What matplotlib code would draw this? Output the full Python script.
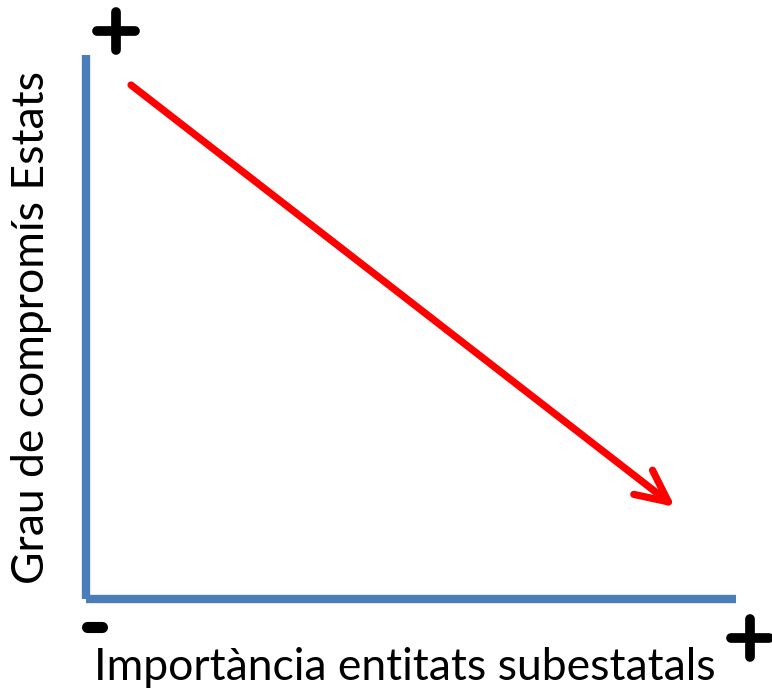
import matplotlib
matplotlib.use('Agg')
import matplotlib.pyplot as plt

# eixos del diagrama (en pixels de la imatge)
eix_x = [86, 736]
eix_y = [55, 599]
origen = (86, 599)

# fletxa: de dalt a l'esquerra fins a baix a la dreta
fletxa_inici = (131, 85)
fletxa_final = (675, 507)

etiqueta_x = 'Importància entitats subestatals'
etiqueta_y = 'Grau de compromís Estats'

blau = '#4a7ebb'
vermell = '#ff0000'

fig = plt.figure(figsize=(7.72, 6.95), dpi=100)
ax = fig.add_axes([0, 0, 1, 1])
ax.set_xlim(0, 772)
ax.set_ylim(695, 0)
ax.axis('off')

# eixos blaus
ax.plot([origen[0], origen[0]], [eix_y[0], origen[1]], color=blau, lw=6, solid_capstyle='butt')
ax.plot([eix_x[0], eix_x[1]], [origen[1], origen[1]], color=blau, lw=6, solid_capstyle='butt')

# fletxa vermella
ax.annotate('', xy=fletxa_final, xytext=fletxa_inici,
            arrowprops=dict(arrowstyle='->,head_length=2.3,head_width=1.1',
                            color=vermell, lw=5.2, capstyle='round',
                            joinstyle='round', shrinkA=0, shrinkB=0))

# signes + i -
def signe_mes(cx, cy, r=19, lw=7):
    ax.plot([cx - r, cx + r], [cy, cy], color='black', lw=lw, solid_capstyle='round')
    ax.plot([cx, cx], [cy - r, cy + r], color='black', lw=lw, solid_capstyle='round')

signe_mes(116, 31)
signe_mes(750, 638)
ax.plot([87, 102], [627, 627], color='black', lw=8, solid_capstyle='round')

ax.text(405, 668, etiqueta_x, ha='center', va='center', fontsize=32, family=['Lato', 'DejaVu Sans'])
ax.text(32, 327, etiqueta_y, ha='center', va='center', rotation=90, fontsize=32, family=['Lato', 'DejaVu Sans'])

fig.savefig('out.png', dpi=100)
